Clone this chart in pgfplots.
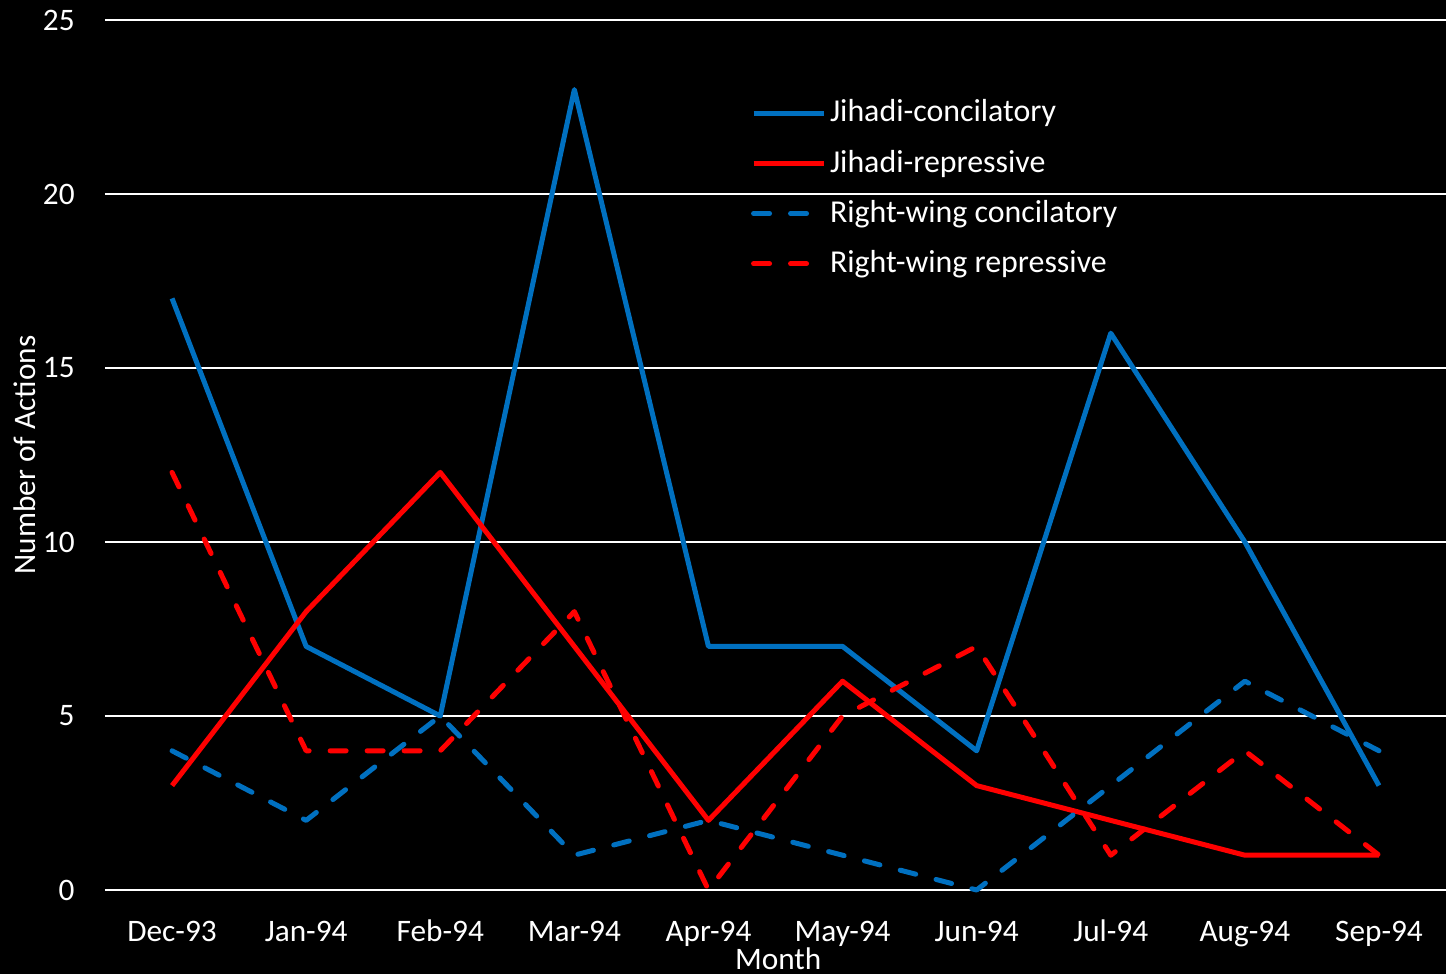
\documentclass[border=0pt]{standalone}
\usepackage{pgfplots}
\pgfplotsset{compat=1.18}
\usepackage{fontspec}
\setmainfont{Carlito}
\definecolor{cblue}{HTML}{0070C0}
\definecolor{cred}{HTML}{FF0000}
\begin{document}
\fontsize{15.7}{18}\selectfont
\begin{tikzpicture}
\fill[black] (-52.5bp,-42bp) rectangle (670.5bp,445bp);
\useasboundingbox (-52.5bp,-42bp) rectangle (670.5bp,445bp);
\begin{axis}[
  scale only axis,
  width=670.5bp, height=435bp,
  xmin=-0.5, xmax=9.5, ymin=0, ymax=25,
  xtick={0,...,9},
  xticklabels={Dec-93,Jan-94,Feb-94,Mar-94,Apr-94,May-94,Jun-94,Jul-94,Aug-94,Sep-94},
  ytick={0,5,10,15,20,25},
  ymajorgrids,
  grid style={white, line width=1bp},
  axis line style={draw=none},
  major tick length=0pt,
  tick label style={white, font=\fontsize{15.7}{18}\selectfont},
  /pgf/number format/assume math mode=true,
  x tick label style={anchor=base, inner sep=0pt, yshift=-25.5bp},
  y tick label style={anchor=east, inner sep=0pt, xshift=-15bp},
  xlabel={Month}, ylabel={Number of Actions},
  every axis x label/.style={at={(axis description cs:0.502,-0.079)}, anchor=center, text=white, font=\fontsize{15.7}{18}\selectfont},
  every axis y label/.style={at={(axis description cs:-0.0597,0.5)}, anchor=center, rotate=90, text=white, font=\fontsize{15.7}{18}\selectfont},
  legend style={at={(0.477,0.918)}, anchor=north west, draw=none, fill=none,
    text=white, font=\fontsize{16}{19}\selectfont, row sep=7.7bp,
    legend cell align=left},
  legend image code/.code={\draw[#1] (0bp,0bp) -- (35bp,0bp);},
  every axis plot/.append style={line width=2.5bp, line join=round},
  clip=false,
]
\addplot[cblue] coordinates {(0,17)(1,7)(2,5)(3,23)(4,7)(5,7)(6,4)(7,16)(8,10)(9,3)};
\addlegendentry{Jihadi-concilatory}
\addplot[cred] coordinates {(0,3)(1,8)(2,12)(3,7)(4,2)(5,6)(6,3)(7,2)(8,1)(9,1)};
\addlegendentry{Jihadi-repressive}
\addplot[cblue, line cap=round, dash pattern=on 8bp off 10.5bp] coordinates {(0,4)(1,2)(2,5)(3,1)(4,2)(5,1)(6,0)(7,3)(8,6)(9,4)};
\addlegendentry{Right-wing concilatory}
\addplot[cred, line cap=round, dash pattern=on 8bp off 10.5bp] coordinates {(0,12)(1,4)(2,4)(3,8)(4,0)(5,5)(6,7)(7,1)(8,4)(9,1)};
\addlegendentry{Right-wing repressive}
\end{axis}
\end{tikzpicture}
\end{document}
